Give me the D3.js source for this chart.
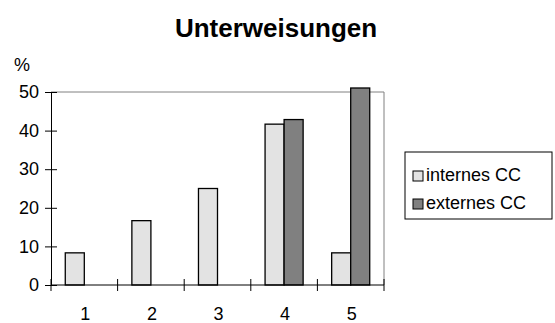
<!DOCTYPE html>
<html>
<head>
<meta charset="utf-8">
<script src="https://cdn.jsdelivr.net/npm/d3@7"></script>
<style>
  body { margin: 0; background: #fff; }
  svg { display: block; font-family: Arial, "Liberation Sans", sans-serif; }
</style>
</head>
<body>
<svg id="chart" width="555" height="323"></svg>
<script>
var categories = ["1", "2", "3", "4", "5"];
var seriesNames = ["internes CC", "externes CC"];
var internes = [8.33, 16.67, 25, 41.67, 8.33];
var externes = [0, 0, 0, 42.86, 57.14];
var yTicks = [0, 10, 20, 30, 40, 50];
var colors = ["#e3e3e3", "#808080"];

var svg = d3.select("#chart");
var pLeft = 51, pRight = 384, pTop = 92, pBottom = 285;

var x = d3.scaleBand().domain(categories).range([pLeft, pRight]);
var y = d3.scaleLinear().domain([0, 50]).range([pBottom, pTop]);

var gapRatio = 1.5;
var barW = x.bandwidth() / (2 + gapRatio);

// plot frame (top/right grey)
svg.append("path")
    .attr("d", "M" + pLeft + "," + pTop + "H" + pRight + "V" + pBottom)
    .attr("fill", "none").attr("stroke", "#808080").attr("stroke-width", 1);

var rows = categories.map(function (c, i) {
    return { cat: c, vals: [internes[i], externes[i]] };
});

var g = svg.append("g");
rows.forEach(function (r) {
    r.vals.forEach(function (v, s) {
        if (!v) return;
        var cx = x(r.cat) + x.bandwidth() / 2;
        var x0 = cx - barW + s * barW;
        var yt = Math.max(y(v), pTop - 4);
        g.append("rect")
            .attr("x", x0).attr("y", yt)
            .attr("width", barW).attr("height", pBottom - yt)
            .attr("fill", colors[s])
            .attr("stroke", "#000").attr("stroke-width", 1.3);
    });
});

// y axis
var yAxis = d3.axisLeft(y).tickValues(yTicks).tickSizeInner(6).tickSizeOuter(0).tickPadding(6);
var ya = svg.append("g").attr("transform", "translate(" + pLeft + ",0)").call(yAxis);
ya.selectAll(".tick line").attr("x2", 6).attr("x1", -6).attr("stroke", "#000");
ya.select(".domain").attr("stroke", "#000");
ya.selectAll("text").attr("font-size", 18).attr("fill", "#000")
    .attr("font-family", "Arial, 'Liberation Sans', sans-serif");

// x axis: ticks on category boundaries
svg.append("line").attr("x1", pLeft).attr("x2", pRight).attr("y1", pBottom).attr("y2", pBottom)
    .attr("stroke", "#000");
var bounds = categories.map(function (c) { return x(c); }).concat([pRight]);
svg.selectAll(".xt").data(bounds).enter().append("line")
    .attr("x1", function (d) { return d; }).attr("x2", function (d) { return d; })
    .attr("y1", pBottom - 6).attr("y2", pBottom + 6).attr("stroke", "#000");
svg.selectAll(".xl").data(categories).enter().append("text")
    .attr("x", function (d) { return x(d) + x.bandwidth() / 2 + 1; })
    .attr("y", 320)
    .attr("text-anchor", "middle").attr("font-size", 18)
    .text(function (d) { return d; });

// title and unit
svg.append("text").attr("x", 276).attr("y", 37).attr("text-anchor", "middle")
    .attr("font-size", 26).attr("font-weight", "bold").text("Unterweisungen");
svg.append("text").attr("x", 14).attr("y", 71).attr("font-size", 18).text("%");

// legend
var lg = svg.append("g").attr("transform", "translate(405,152)");
lg.append("rect").attr("width", 147).attr("height", 67)
    .attr("fill", "#fff").attr("stroke", "#000");
seriesNames.forEach(function (n, i) {
    lg.append("rect").attr("x", 8).attr("y", 19 + i * 28).attr("width", 10).attr("height", 10)
        .attr("fill", colors[i]).attr("stroke", "#000");
    lg.append("text").attr("x", 21).attr("y", 29 + i * 28).attr("font-size", 18).text(n);
});
</script>
</body>
</html>
